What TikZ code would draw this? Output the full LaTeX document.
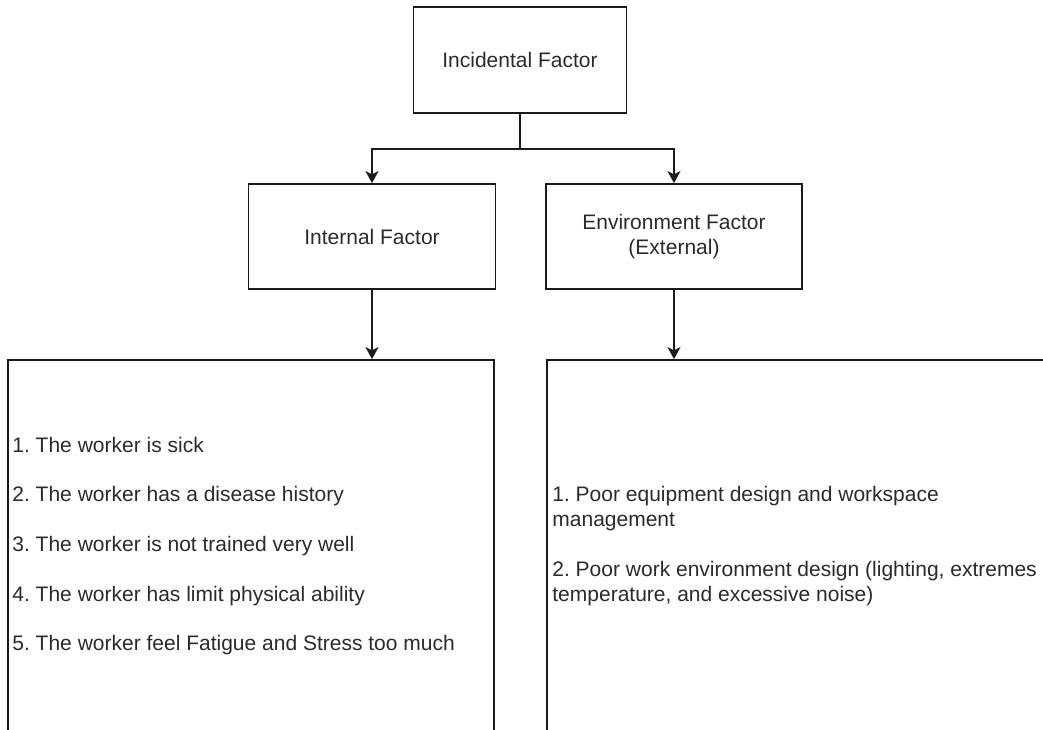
\documentclass[tikz,border=0pt]{standalone}
\usepackage{fontspec}
\setmainfont{Liberation Sans}
\usetikzlibrary{arrows.meta}
\definecolor{inkline}{HTML}{1A1A1A}
\definecolor{inktext}{HTML}{2B2B2B}
\frenchspacing
\begin{document}
\begin{tikzpicture}[x=0.5pt,y=-0.5pt,
  every node/.style={text=inktext,font=\fontsize{10.5}{12.4}\selectfont,inner sep=0pt},
  factorbox/.style={draw=inkline,line width=0.9pt,fill=white,align=center},
  listtext/.style={anchor=west,align=left},
  arr/.style={draw=inkline,line width=0.9pt,-{Stealth[length=6pt,width=6.5pt,inset=1.6pt]}},
  link/.style={draw=inkline,line width=0.9pt}]
  \useasboundingbox (0,0) rectangle (1043,729);
  \clip (0,0) rectangle (1043,729);
  \fill[white] (0,0) rectangle (1043,729);

  % factor boxes
  \node[factorbox,minimum width=106.5pt,minimum height=53pt] (top) at (520,60) {Incidental Factor};
  \node[factorbox,minimum width=123.5pt,minimum height=52.5pt] (internal) at (372,236.5) {Internal Factor};
  \node[factorbox,minimum width=128pt,minimum height=52.5pt] (env) at (674,236.5) {Environment Factor\\(External)};

  % large list boxes (run past the lower and right edges)
  \node[factorbox,minimum width=243pt,minimum height=186pt] (leftbox) at (251,546) {};
  \node[factorbox,minimum width=260pt,minimum height=186pt] (rightbox) at (807,546) {};

  % list contents
  \node[listtext] (internallist) at (12,546) {1. The worker is sick\\[12.4pt]
    2. The worker has a disease history\\[12.4pt]
    3. The worker is not trained very well\\[12.4pt]
    4. The worker has limit physical ability\\[12.4pt]
    5. The worker feel Fatigue and Stress too much};
  \node[listtext] (envlist) at (552,546) {1. Poor equipment design and workspace\\
    management\\[12.4pt]
    2. Poor work environment design (lighting, extremes\\
    temperature, and excessive noise)};

  % connectors
  \coordinate (split) at (520,149);
  \draw[link] (top.south) -- (split);
  \draw[arr] (split) -| (internal.north);
  \draw[arr] (split) -| (env.north);
  \draw[arr] (internal.south) -- (internal.south |- leftbox.north);
  \draw[arr] (env.south) -- (env.south |- rightbox.north);
\end{tikzpicture}
\end{document}
